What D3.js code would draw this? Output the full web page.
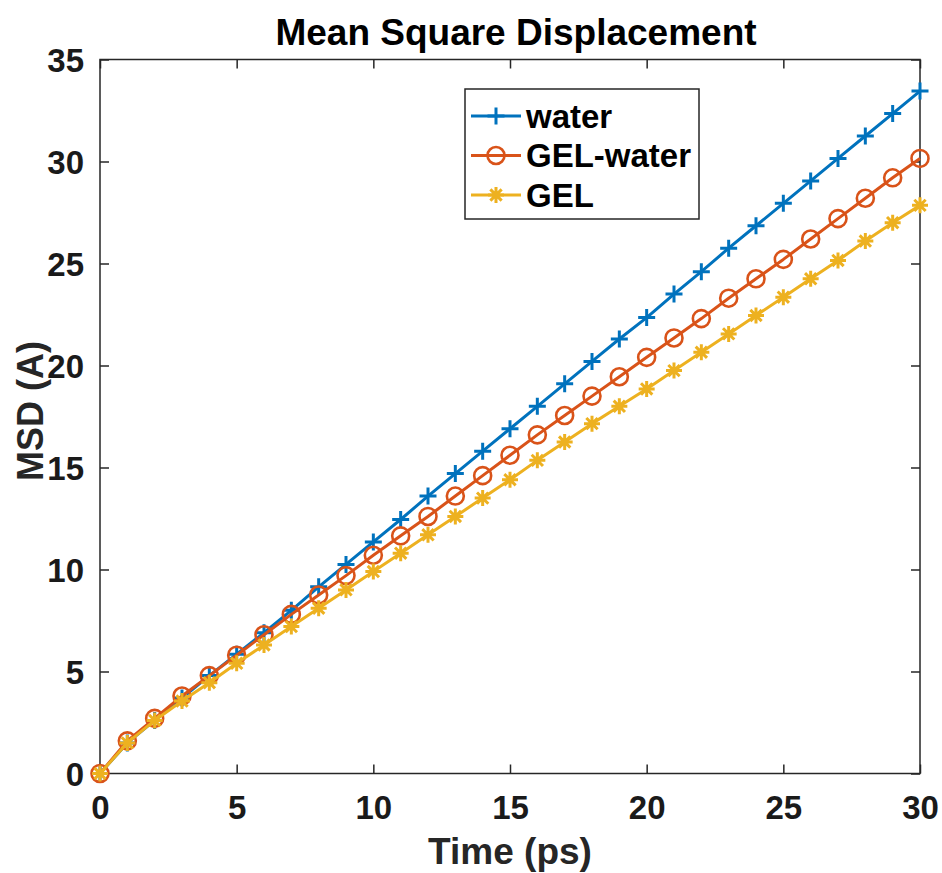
<!DOCTYPE html>
<html>
<head>
<meta charset="utf-8">
<script src="https://cdn.jsdelivr.net/npm/d3@7"></script>
<style>
  html, body { margin: 0; padding: 0; background: #fff; }
  svg { display: block; font-family: "Liberation Sans", Arial, Helvetica, sans-serif; font-weight: bold; }
</style>
</head>
<body>
<svg id="chart" width="942" height="873"></svg>
<script>
// Simulation time (ps)
const time = d3.range(0, 31);
// Mean square displacement per system
const water = [0, 1.5, 2.6, 3.7, 4.8, 5.85, 6.9, 8.0, 9.15, 10.25, 11.35,
  12.45, 13.6, 14.7, 15.8, 16.9, 18.0, 19.1, 20.2, 21.3, 22.35,
  23.5, 24.6, 25.75, 26.85, 27.95, 29.05, 30.15, 31.25, 32.35, 33.45];
const gelWater = [0, 1.6, 2.7, 3.8, 4.8, 5.8, 6.8, 7.8, 8.75, 9.7, 10.7,
  11.65, 12.6, 13.6, 14.6, 15.6, 16.6, 17.55, 18.5, 19.45, 20.4,
  21.35, 22.3, 23.3, 24.25, 25.2, 26.2, 27.2, 28.2, 29.2, 30.15];
const gel = [0, 1.5, 2.6, 3.55, 4.45, 5.4, 6.3, 7.2, 8.1, 9.0, 9.9,
  10.8, 11.7, 12.6, 13.5, 14.4, 15.35, 16.25, 17.15, 18.0, 18.85,
  19.75, 20.65, 21.55, 22.45, 23.35, 24.25, 25.15, 26.1, 27.0, 27.85];
const xTicks = [0, 5, 10, 15, 20, 25, 30];
const yTicks = [0, 5, 10, 15, 20, 25, 30, 35];

const series = [
  { name: "water", values: water, color: "#0072BD", marker: "plus" },
  { name: "GEL-water", values: gelWater, color: "#D95319", marker: "circle" },
  { name: "GEL", values: gel, color: "#EDB120", marker: "asterisk" }
];

const svg = d3.select("#chart");
const m = { left: 100, right: 920, top: 59.5, bottom: 773.5 };
const x = d3.scaleLinear().domain([0, 30]).range([m.left, m.right]);
const y = d3.scaleLinear().domain([0, 35]).range([m.bottom, m.top]);
const axisColor = "#262626";
const tickLen = 9;

// Tick marks pointing inward on all four sides
const axes = svg.append("g");
const bottomAxis = d3.axisBottom(x).tickValues(xTicks).tickSize(-tickLen).tickFormat(d3.format("d")).tickPadding(22);
const topAxis = d3.axisTop(x).tickValues(xTicks).tickSize(-tickLen).tickFormat("");
const leftAxis = d3.axisLeft(y).tickValues(yTicks).tickSize(-tickLen).tickFormat(d3.format("d")).tickPadding(16);
const rightAxis = d3.axisRight(y).tickValues(yTicks).tickSize(-tickLen).tickFormat("");

function styleAxis(g) {
  g.select(".domain").remove();
  g.selectAll(".tick line").attr("stroke", axisColor).attr("stroke-width", 1.5);
  g.selectAll(".tick text").attr("fill", "#1a1a1a").attr("font-size", 33).attr("font-weight", "bold")
    .attr("font-family", "Liberation Sans, Arial, sans-serif");
}
axes.append("g").attr("transform", `translate(0,${m.bottom})`).call(bottomAxis).call(styleAxis);
axes.append("g").attr("transform", `translate(0,${m.top})`).call(topAxis).call(styleAxis);
axes.append("g").attr("transform", `translate(${m.left},0)`).call(leftAxis).call(styleAxis)
  .selectAll(".tick text").attr("dy", "0.36em");
axes.append("g").attr("transform", `translate(${m.right},0)`).call(rightAxis).call(styleAxis);

// Axes box
svg.append("rect")
  .attr("x", m.left).attr("y", m.top)
  .attr("width", m.right - m.left).attr("height", m.bottom - m.top)
  .attr("fill", "none").attr("stroke", axisColor).attr("stroke-width", 1.5);

// Marker shapes
function drawMarker(g, type, color, cx, cy) {
  if (type === "plus") {
    const r = 8.5;
    g.append("path").attr("d", `M${cx - r},${cy}H${cx + r}M${cx},${cy - r}V${cy + r}`)
      .attr("stroke", color).attr("stroke-width", 3).attr("fill", "none");
  } else if (type === "circle") {
    g.append("circle").attr("cx", cx).attr("cy", cy).attr("r", 8.5)
      .attr("fill", "none").attr("stroke", color).attr("stroke-width", 2.6);
  } else {
    const r = 8, d = r * Math.SQRT1_2;
    g.append("path")
      .attr("d", `M${cx - r},${cy}H${cx + r}M${cx},${cy - r}V${cy + r}` +
        `M${cx - d},${cy - d}L${cx + d},${cy + d}M${cx - d},${cy + d}L${cx + d},${cy - d}`)
      .attr("stroke", color).attr("stroke-width", 3).attr("fill", "none");
  }
}

const line = d3.line().x((d, i) => x(time[i])).y(d => y(d));
const plot = svg.append("g");
series.forEach(s => {
  const g = plot.append("g");
  g.append("path").attr("d", line(s.values))
    .attr("fill", "none").attr("stroke", s.color).attr("stroke-width", 3)
    .attr("stroke-linejoin", "round");
  s.values.forEach((v, i) => drawMarker(g, s.marker, s.color, x(time[i]), y(v)));
});

// Legend
const legend = svg.append("g");
legend.append("rect").attr("x", 465).attr("y", 89).attr("width", 234).attr("height", 130)
  .attr("fill", "#fff").attr("stroke", axisColor).attr("stroke-width", 1.5);
series.forEach((s, i) => {
  const cy = 116 + i * 39.5;
  legend.append("line").attr("x1", 471).attr("x2", 521).attr("y1", cy).attr("y2", cy)
    .attr("stroke", s.color).attr("stroke-width", 3);
  drawMarker(legend, s.marker, s.color, 496, cy);
  legend.append("text").attr("x", 526).attr("y", cy).attr("dy", "0.35em")
    .attr("font-size", 33).attr("fill", "#000").text(s.name);
});

// Title and axis labels
svg.append("text").attr("x", 516).attr("y", 45).attr("text-anchor", "middle")
  .attr("font-size", 37).attr("fill", "#000").text("Mean Square Displacement");
svg.append("text").attr("x", 510).attr("y", 864).attr("text-anchor", "middle")
  .attr("font-size", 37).attr("fill", "#262626").text("Time (ps)");
svg.append("text").attr("transform", "translate(43,411) rotate(-90)").attr("text-anchor", "middle")
  .attr("font-size", 36).attr("fill", "#262626").text("MSD (A)");
</script>
</body>
</html>
